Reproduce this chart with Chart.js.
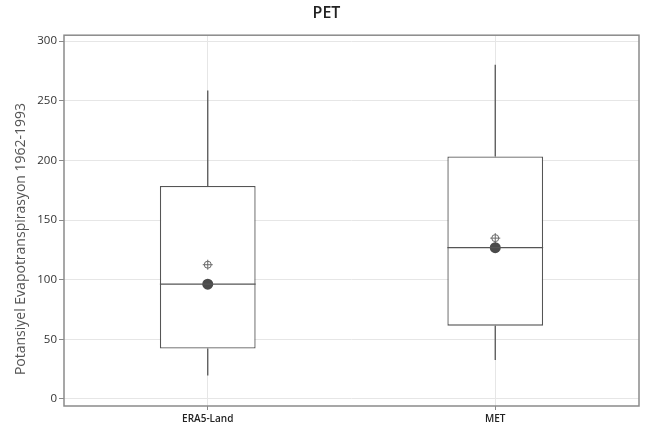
<!DOCTYPE html>
<html>
<head>
<meta charset="utf-8">
<script src="https://cdn.jsdelivr.net/npm/chart.js@4"></script>
<style>
  html, body { margin: 0; padding: 0; background: #fff; }
  #wrap { width: 649px; height: 430px; }
</style>
</head>
<body>
<div id="wrap"><canvas id="pet"></canvas></div>
<script>
// Kutu grafiği verileri
const categories = ['ERA5-Land', 'MET'];
const whiskerLow = [19.5, 32.5];
const q1Values = [42.2, 61.4];
const medianValues = [96.2, 126.8];
const q3Values = [178.5, 203.2];
const whiskerHigh = [258.6, 280.2];
const meanValues = [112.5, 134.8];
const yTicks = [0, 50, 100, 150, 200, 250, 300];
const yTitle = 'Potansiyel Evapotranspirasyon 1962-1993';

const boxColor = '#555555';

// Bıyıklar, medyan çizgisi, çerçeve ve y ekseni başlığı
const boxplotExtras = {
    id: 'boxplotExtras',
    beforeDatasetsDraw(chart) {
        const { ctx, chartArea } = chart;
        ctx.save();
        ctx.strokeStyle = '#8a8a8a';
        ctx.lineWidth = 1.5;
        ctx.strokeRect(chartArea.left, chartArea.top, chartArea.right - chartArea.left, chartArea.bottom - chartArea.top);

        // y ekseni başlığı (Minitab'daki gibi biraz aşağıda ortalanmış)
        ctx.translate(21, 239);
        ctx.rotate(-Math.PI / 2);
        ctx.fillStyle = '#555';
        ctx.font = '14px "Open Sans"';
        ctx.textAlign = 'center';
        ctx.textBaseline = 'middle';
        ctx.fillText(yTitle, 0, 0);
        ctx.restore();
    },
    afterDatasetsDraw(chart) {
        const { ctx } = chart;
        const xScale = chart.scales.x;
        const yScale = chart.scales.y;
        const boxes = chart.getDatasetMeta(0).data;
        ctx.save();
        ctx.strokeStyle = boxColor;
        ctx.lineWidth = 1.3;
        categories.forEach((cat, i) => {
            const x = xScale.getPixelForValue(i);
            const half = boxes[i].width / 2;
            ctx.beginPath();
            ctx.moveTo(x, yScale.getPixelForValue(q3Values[i]));
            ctx.lineTo(x, yScale.getPixelForValue(whiskerHigh[i]));
            ctx.moveTo(x, yScale.getPixelForValue(q1Values[i]));
            ctx.lineTo(x, yScale.getPixelForValue(whiskerLow[i]));
            const ym = yScale.getPixelForValue(medianValues[i]);
            ctx.moveTo(x - half, ym);
            ctx.lineTo(x + half, ym);
            ctx.stroke();
        });
        ctx.restore();
    }
};

const ctx = document.getElementById('pet').getContext('2d');
new Chart(ctx, {
    data: {
        labels: categories,
        datasets: [
            {
                type: 'bar',
                label: 'Kutu',
                data: categories.map((c, i) => [q1Values[i], q3Values[i]]),
                backgroundColor: '#ffffff',
                borderColor: boxColor,
                borderWidth: 1.3,
                borderSkipped: false,
                barPercentage: 0.333,
                categoryPercentage: 1,
                order: 3
            },
            {
                type: 'line',
                label: 'Medyan',
                data: medianValues,
                showLine: false,
                pointRadius: 5.5,
                pointBackgroundColor: '#4a4a4a',
                pointBorderColor: '#4a4a4a',
                pointBorderWidth: 0,
                order: 1
            },
            {
                type: 'line',
                label: 'Ortalama',
                data: meanValues,
                showLine: false,
                pointStyle: 'circle',
                pointRadius: 3.5,
                pointBackgroundColor: 'rgba(0,0,0,0)',
                pointBorderColor: '#6a6a6a',
                pointBorderWidth: 1,
                order: 2
            },
            {
                type: 'line',
                label: 'Ortalama+',
                data: meanValues,
                showLine: false,
                pointStyle: 'cross',
                pointRadius: 5,
                pointBorderColor: '#6a6a6a',
                pointBorderWidth: 1,
                order: 2
            }
        ]
    },
    options: {
        responsive: true,
        maintainAspectRatio: false,
        animation: false,
        layout: { padding: { top: 0, right: 10, bottom: 0, left: 14 } },
        plugins: {
            legend: { display: false },
            tooltip: { enabled: false },
            title: {
                display: true,
                text: 'PET',
                color: '#222',
                font: { family: 'Open Sans', size: 16, weight: '600' },
                padding: { top: 4, bottom: 12 }
            }
        },
        scales: {
            x: {
                type: 'category',
                offset: true,
                afterFit: (scale) => { scale.height = 24; },
                grid: { offset: false, color: '#e6e6e6', lineWidth: 1, drawTicks: true, tickLength: 4, tickColor: '#8a8a8a' },
                border: { display: false },
                ticks: { color: '#222', padding: 3, font: { family: 'Open Sans', size: 10, weight: '600' } }
            },
            y: {
                min: -6,
                max: 305,
                afterFit: (scale) => { scale.width = 50; },
                afterBuildTicks: (scale) => { scale.ticks = yTicks.map(v => ({ value: v })); },
                grid: { color: '#e6e6e6', lineWidth: 1, drawTicks: true, tickLength: 5, tickColor: '#8a8a8a' },
                border: { display: false },
                ticks: { color: '#333', padding: 2, font: { family: 'Open Sans', size: 11.5 } }
            }
        }
    },
    plugins: [boxplotExtras]
});
</script>
</body>
</html>
